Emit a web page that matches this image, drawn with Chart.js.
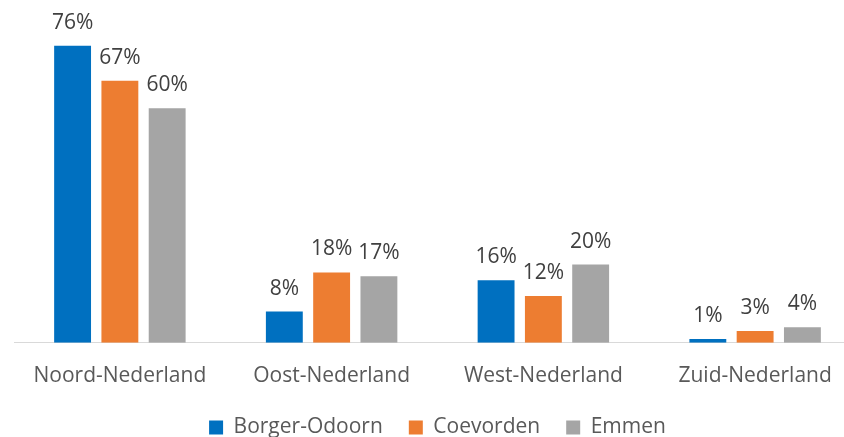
<!DOCTYPE HTML>
<html>

<head>
  <title>Regio</title>
  <meta content="width=device-width, initial-scale=1.0" name="viewport">
  <script src="https://cdn.jsdelivr.net/npm/chart.js"></script>
  <style>
    html, body { margin: 0; padding: 0; overflow: hidden; background: #fff; }
    .chart-container { position: relative; width: 880px; height: 437px; }
  </style>
</head>

<body>
  <div class="chart-container">
    <canvas id="regioChart"></canvas>
  </div>

  <script type="text/javascript">
    const ctx_regio = document.getElementById('regioChart');

    var xvarregio = ["Noord-Nederland", "Oost-Nederland", "West-Nederland", "Zuid-Nederland"];
    var yvarborger = [76, 8, 16, 1];
    var yvarcoevorden = [67, 18, 12, 3];
    var yvaremmen = [60, 17, 20, 4];

    var chartColors = { blue: '#0070C0', orange: '#ED7D31', gray: '#A5A5A5' };
    var fontFam = '"Open Sans", "Noto Sans", sans-serif';

    // percentage above each bar
    const valueLabels = {
      id: 'valueLabels',
      afterDatasetsDraw(chart) {
        const c = chart.ctx;
        c.save();
        c.font = '21px ' + fontFam;
        c.fillStyle = '#404040';
        c.textAlign = 'center';
        c.textBaseline = 'alphabetic';
        chart.data.datasets.forEach((ds, i) => {
          chart.getDatasetMeta(i).data.forEach((bar, j) => {
            c.fillText(ds.data[j] + '%', bar.x, bar.y - 17);
          });
        });
        c.restore();
      }
    };

    var Chartregio = new Chart(ctx_regio, {
      type: 'bar',
      plugins: [valueLabels],
      options: {
        responsive: true,
        maintainAspectRatio: false,
        animation: false,
        layout: { padding: { left: 14, right: 19, top: 30, bottom: -11 } },
        scales: {
          x: {
            // ticks hidden with the grid, tickLength only keeps the labels away from the axis
            grid: { display: false, drawTicks: true, tickLength: 19 },
            border: { color: '#D9D9D9', width: 1 },
            ticks: { color: '#595959', font: { family: fontFam, size: 21 }, padding: 2 }
          },
          y: { display: false, min: 0, max: 80 }
        },
        plugins: {
          legend: {
            position: 'bottom',
            labels: {
              color: '#595959',
              font: { family: fontFam, size: 21 },
              boxWidth: 14,
              boxHeight: 14,
              padding: 26
            }
          },
          tooltip: { enabled: false }
        }
      },
      data: {
        labels: xvarregio,
        datasets: [
          { label: 'Borger-Odoorn', data: yvarborger, backgroundColor: chartColors.blue, barPercentage: 0.78, categoryPercentage: 0.67 },
          { label: 'Coevorden', data: yvarcoevorden, backgroundColor: chartColors.orange, barPercentage: 0.78, categoryPercentage: 0.67 },
          { label: 'Emmen', data: yvaremmen, backgroundColor: chartColors.gray, barPercentage: 0.78, categoryPercentage: 0.67 }
        ]
      }
    });
  </script>
</body>

</html>
